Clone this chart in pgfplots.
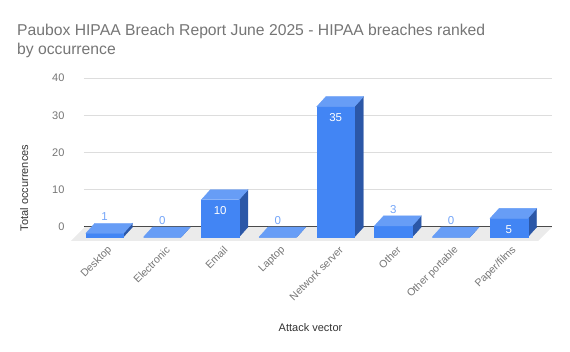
\documentclass[border=0pt]{standalone}
\usepackage{pgfplots}
\usepackage{pgfplotstable}
\pgfplotsset{compat=1.18}
\usepackage{fontspec}
\setmainfont{Liberation Sans}
\definecolor{barfront}{HTML}{4285F4}
\definecolor{bartop}{HTML}{679DF6}
\definecolor{barside}{HTML}{2B57A7}
\definecolor{floorgray}{HTML}{EBEBEB}
\definecolor{gridgray}{HTML}{DDDDDD}
\definecolor{labgray}{HTML}{757575}
\definecolor{vallab}{HTML}{74A5F8}
\definecolor{axtitle}{HTML}{333333}
\pgfdeclareplotmark{nothing}{}
\pgfplotstableread{
x y
0 1
1 0
2 10
3 0
4 35
5 3
6 0
7 5
}\breaches
\begin{document}
\begin{tikzpicture}
\path[use as bounding box] (-84pt,-125pt) rectangle (486pt,227pt);
\begin{axis}[
  at={(0pt,0pt)}, anchor=south west,
  scale only axis, width=468pt, height=149pt,
  xmin=-0.514, xmax=7.59, ymin=0, ymax=40,
  clip=false,
  axis line style={draw=none},
  major tick length=0pt,
  /pgf/number format/assume math mode=true,
  ytick={10,20,30,40},
  extra y ticks={0},
  extra y tick style={grid style={draw=axtitle, line width=1pt}},
  ymajorgrids,
  grid style={gridgray, line width=0.9pt},
  yticklabel style={font=\fontsize{11}{13}\selectfont, text=labgray, xshift=-16pt},
  xtick={0,...,7},
  xticklabels={Desktop,Electronic,Email,Laptop,Network server,Other,Other portable,Paper/films},
  xticklabel style={xshift=-1pt, yshift=-19pt, rotate=45, anchor=east, font=\fontsize{10.5}{12}\selectfont, text=labgray},
  xlabel={Attack vector},
  ylabel={Total occurrences},
  every axis x label/.style={at={(axis description cs:0.484,-0.678)}, anchor=center, font=\fontsize{11}{13}\selectfont, text=axtitle},
  every axis y label/.style={at={(axis description cs:-0.128,0.262)}, rotate=90, anchor=center, font=\fontsize{11}{13}\selectfont, text=axtitle},
  title={Paubox HIPAA Breach Report June 2025 - HIPAA breaches ranked\\by occurrence},
  title style={at={(axis description cs:-0.1432,1.3255)}, anchor=north west, align=left, inner sep=0pt, font=\fontsize{15.7}{19}\selectfont, text=labgray},
]
\fill[floorgray] (axis cs:-0.497,0) -- (axis cs:7.59,0) -- (axis cs:7.348,-3.758) -- (axis cs:-0.739,-3.758) -- cycle;
\addplot[only marks, mark=nothing, scatter,
  visualization depends on={rawy \as \val},
  scatter/@pre marker code/.code={%
    \begingroup
    \pgfkeys{/pgf/fpu=false}%
    \pgfmathsetmacro{\h}{\val*3.725}%
    \pgfmathtruncatemacro{\vint}{round(\val)}%
    \fill[barside] (9.8pt,-10pt) -- (18.8pt,0pt) -- (18.8pt,{-\h pt}) -- (9.8pt,{-\h pt-10pt}) -- cycle;
    \fill[barfront] (-27.8pt,{-\h pt-10pt}) rectangle (9.8pt,-10pt);
    \fill[bartop] (-27.8pt,-10pt) -- (9.8pt,-10pt) -- (18.8pt,0pt) -- (-18.8pt,0pt) -- cycle;
    \ifnum\vint>4
      \node[text=white, font=\fontsize{11.5}{13}\selectfont, inner sep=0pt] at (-9pt,-21pt) {\vint};
    \else
      \node[text=vallab, font=\fontsize{11.5}{13}\selectfont, inner sep=0pt] at (-9pt,6.5pt) {\vint};
    \fi
    \endgroup
  },
  scatter/@post marker code/.code={},
] table[x=x, y=y] {\breaches};
\end{axis}
\end{tikzpicture}
\end{document}
